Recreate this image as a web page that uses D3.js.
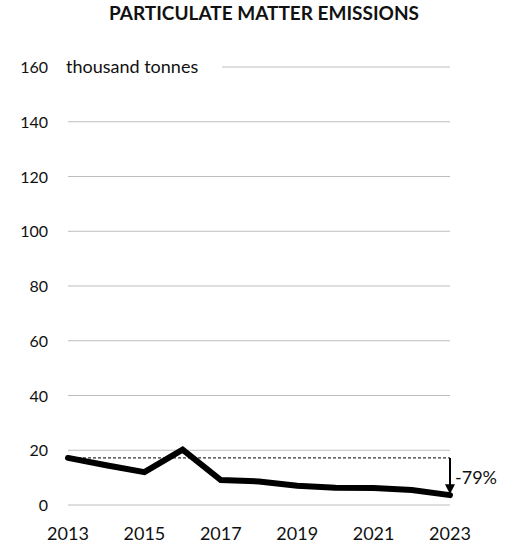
<!DOCTYPE html>
<html lang="en">
<head>
  <meta charset="UTF-8">
  <script src="https://d3js.org/d3.v7.min.js"></script>
  <title>Particulate matter emissions</title>
  <style>
    body { margin: 0; background: #fff; }
    text { font-family: Lato, "Open Sans", sans-serif; fill: #111; }
  </style>
</head>
<body>
  <svg width="517" height="545"></svg>
  <script>
    const years = [2013, 2014, 2015, 2016, 2017, 2018, 2019, 2020, 2021, 2022, 2023]
    const emissions = [17.2, 14.5, 12.0, 20.2, 9.1, 8.6, 7.0, 6.3, 6.2, 5.5, 3.6]
    const yTicks = [0, 20, 40, 60, 80, 100, 120, 140, 160]
    const xTicks = [2013, 2015, 2017, 2019, 2021, 2023]
    const changeLabel = '-79%'

    const svg = d3.select('svg')
    const plotLeft = 68, plotRight = 450, plotTop = 67, plotBottom = 505

    const x = d3.scaleLinear().domain([2013, 2023]).range([plotLeft, plotRight])
    const y = d3.scaleLinear().domain([0, 160]).range([plotBottom, plotTop])

    svg.append('text')
      .attr('x', 264).attr('y', 20)
      .attr('text-anchor', 'middle')
      .style('font-weight', 'bold')
      .style('font-size', '19px')
      .text('PARTICULATE MATTER EMISSIONS')

    // gridlines
    svg.append('g').selectAll('line')
      .data(yTicks)
      .join('line')
      .attr('x1', d => d === 160 ? 222 : plotLeft)
      .attr('x2', plotRight)
      .attr('y1', d => y(d)).attr('y2', d => y(d))
      .attr('stroke', '#bdbdbd')
      .attr('stroke-width', 1)

    svg.append('g').selectAll('text')
      .data(yTicks)
      .join('text')
      .attr('x', 48)
      .attr('y', d => y(d) + 6)
      .attr('text-anchor', 'end')
      .style('font-size', '16px')
      .text(d => d)

    svg.append('text')
      .attr('x', 66).attr('y', y(160) + 6)
      .style('font-size', '18px')
      .text('thousand tonnes')

    svg.append('g').selectAll('text')
      .data(xTicks)
      .join('text')
      .attr('x', d => x(d))
      .attr('y', 540)
      .attr('text-anchor', 'middle')
      .style('font-size', '18px')
      .text(d => d)

    // reference line at first value
    const first = emissions[0], last = emissions[emissions.length - 1]
    svg.append('line')
      .attr('x1', x(2013)).attr('x2', x(2023))
      .attr('y1', y(first)).attr('y2', y(first))
      .attr('stroke', '#000')
      .attr('stroke-width', 1)
      .attr('stroke-dasharray', '3,2')

    const line = d3.line()
      .x((d, i) => x(years[i]))
      .y(d => y(d))

    svg.append('path')
      .datum(emissions)
      .attr('d', line)
      .attr('fill', 'none')
      .attr('stroke', '#000')
      .attr('stroke-width', 6)
      .attr('stroke-linejoin', 'miter')
      .attr('stroke-linecap', 'round')

    // arrow
    svg.append('defs').append('marker')
      .attr('id', 'arr')
      .attr('viewBox', '0 0 10 10')
      .attr('refX', 10).attr('refY', 5)
      .attr('markerWidth', 5).attr('markerHeight', 5)
      .attr('orient', 'auto')
      .append('path')
      .attr('d', 'M0,0L10,5L0,10Z')
      .attr('fill', '#000')

    svg.append('line')
      .attr('x1', x(2023)).attr('x2', x(2023))
      .attr('y1', y(first)).attr('y2', y(last) - 1)
      .attr('stroke', '#000')
      .attr('stroke-width', 2)
      .attr('marker-end', 'url(#arr)')

    svg.append('text')
      .attr('x', x(2023) + 5)
      .attr('y', (y(first) + y(last)) / 2 + 7)
      .style('font-size', '18px')
      .text(changeLabel)
  </script>
</body>
</html>
